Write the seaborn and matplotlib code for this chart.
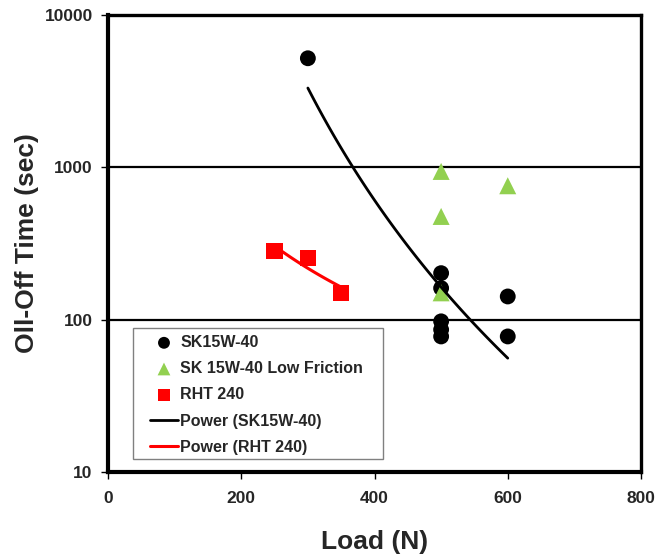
import numpy as np
import pandas as pd
import matplotlib
matplotlib.use("Agg")
import matplotlib.pyplot as plt
from matplotlib.patches import Rectangle
import seaborn as sns

# ---- data ----
sk_load = [300, 500, 500, 500, 500, 500, 600, 600]
sk_time = [5200, 202, 161, 97.5, 86, 77.6, 142, 77.6]

lf_load = [500, 500, 500, 600]
lf_time = [940, 476, 150, 757]

rht_load = [250, 300, 350]
rht_time = [283, 255, 150]

x_ticks = [0, 200, 400, 600, 800]
y_ticks = [10, 100, 1000, 10000]

sns.set_style("white")
plt.rcParams['font.family'] = ['Liberation Sans', 'DejaVu Sans']
plt.rcParams['font.weight'] = 'bold'

W, H = 671, 554
fig = plt.figure(figsize=(W/100, H/100), dpi=100)
L, R, T, B = 108, 641, 15, 472
ax = fig.add_axes([L/W, 1-B/H, (R-L)/W, (B-T)/H])

def power_fit(x, y):
    x = np.asarray(x, float); y = np.asarray(y, float)
    b, lna = np.polyfit(np.log(x), np.log(y), 1)
    xs = np.linspace(x.min(), x.max(), 100)
    return pd.DataFrame({"x": xs, "y": np.exp(lna) * xs ** b})

sk_fit = power_fit(sk_load, sk_time)
rht_fit = power_fit(rht_load, rht_time)

green = "#92D050"
red = "#FF0000"

sns.lineplot(data=rht_fit, x="x", y="y", color=red, lw=2.2, ax=ax, zorder=2,
             label="Power (RHT 240)")
sns.scatterplot(x=sk_load, y=sk_time, marker="o", s=130, color="black",
                edgecolor="none", ax=ax, zorder=3, label="SK15W-40")
sns.scatterplot(x=lf_load, y=lf_time, marker="^", s=150, color=green,
                edgecolor="none", ax=ax, zorder=3, label="SK 15W-40 Low Friction")
sns.scatterplot(x=rht_load, y=rht_time, marker="s", s=140, color=red,
                edgecolor="none", ax=ax, zorder=3, label="RHT 240")
sns.lineplot(data=sk_fit, x="x", y="y", color="black", lw=2.0, ax=ax, zorder=4,
             label="Power (SK15W-40)")

ax.set_yscale("log")
ax.set_xlim(0, 800)
ax.set_ylim(10, 10000)
ax.set_xticks(x_ticks)
ax.set_yticks(y_ticks)
ax.set_xticklabels([str(v) for v in x_ticks])
ax.set_yticklabels([str(v) for v in y_ticks])
ax.yaxis.set_minor_locator(matplotlib.ticker.NullLocator())
ax.tick_params(axis="both", which="major", direction="out", length=5, width=1,
               labelsize=12.5, color="black", bottom=True, left=True)
ax.tick_params(axis="x", pad=9)
ax.tick_params(axis="y", pad=6)
for lbl in ax.get_xticklabels() + ax.get_yticklabels():
    lbl.set_fontweight("bold")

for yv in [100, 1000]:
    ax.axhline(yv, color="black", lw=1.6, zorder=1)

for side in ["left", "bottom"]:
    ax.spines[side].set_linewidth(3.0)
for side in ["top", "right"]:
    ax.spines[side].set_linewidth(2.4)
for s in ax.spines.values():
    s.set_color("black")
    s.set_visible(True)

ax.set_xlabel("Load (N)", fontsize=19, fontweight="bold", labelpad=17)
ax.set_ylabel("Oll-Off Time (sec)", fontsize=19, fontweight="bold", labelpad=4)

handles, labels = ax.get_legend_handles_labels()
order = ["SK15W-40", "SK 15W-40 Low Friction", "RHT 240",
         "Power (SK15W-40)", "Power (RHT 240)"]
hmap = dict(zip(labels, handles))

def ax_x(px):
    return (px - L) / (R - L)

def ax_y(py):
    return (B - py) / (B - T)

leg = ax.legend([hmap[k] for k in order], order, loc="upper left",
                bbox_to_anchor=(ax_x(150), ax_y(335)), frameon=False,
                prop={"weight": "bold", "size": 11.5},
                handlelength=1.75, handletextpad=0.15, labelspacing=0.70,
                borderpad=0, markerscale=0.75, borderaxespad=0)
leg.set_zorder(6)
ax.add_patch(Rectangle((ax_x(133), ax_y(459)), ax_x(383) - ax_x(133),
                       ax_y(328) - ax_y(459), transform=ax.transAxes,
                       facecolor="white", edgecolor="#808080", lw=1.0, zorder=5))

fig.savefig("out.png", dpi=100)
